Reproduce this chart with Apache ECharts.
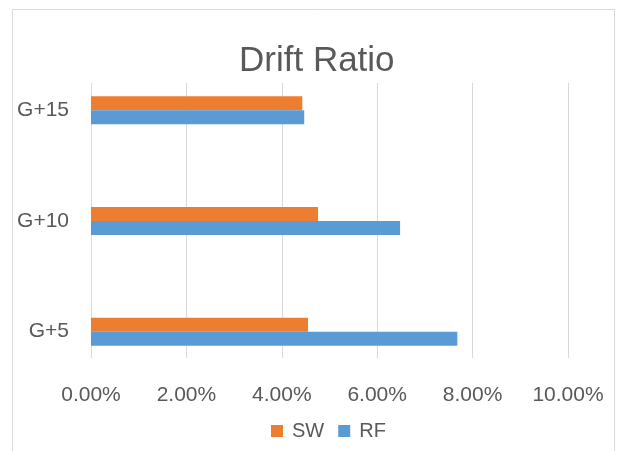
<!DOCTYPE html>
<html>
<head>
<meta charset="utf-8">
<script src="https://cdn.jsdelivr.net/npm/echarts@6/dist/echarts.min.js"></script>
<style>
  html, body { margin: 0; padding: 0; background: #fff; }
  #chart { width: 619px; height: 451px; }
</style>
</head>
<body>
<div id="chart"></div>
<script>
  // data (percent)
  const categories = ['G+5', 'G+10', 'G+15'];
  const swValues = [4.55, 4.76, 4.43];
  const rfValues = [7.68, 6.48, 4.47];
  const xTicks = [0, 2, 4, 6, 8, 10];

  const font = '"Liberation Sans Narrow", "Liberation Sans", sans-serif';
  const textColor = '#595959';

  let chart = echarts.init(document.getElementById('chart'));
  chart.setOption({
    animation: false,
    graphic: [{
      type: 'rect',
      shape: {x: 12.5, y: 9.5, width: 602, height: 460},
      style: {fill: 'none', stroke: '#d9d9d9', lineWidth: 1},
      silent: true,
      z: -1
    }],
    title: {
      text: 'Drift Ratio',
      left: 234,
      top: 39,
      textStyle: {fontFamily: font, fontSize: 35, fontWeight: 'normal', color: textColor}
    },
    legend: {
      data: ['SW', 'RF'],
      left: 266,
      top: 416,
      itemWidth: 12,
      itemHeight: 12,
      itemGap: 14,
      icon: 'rect',
      textStyle: {fontFamily: font, fontSize: 20, color: textColor, padding: [0, 0, 0, 4]}
    },
    grid: [
      {left: 91, top: 55, width: 477, height: 332},   // bars
      {left: 91, top: 83, width: 477, height: 275}    // gridlines + x labels
    ],
    xAxis: [
      {
        type: 'value', gridIndex: 0, min: xTicks[0], max: xTicks[xTicks.length - 1], interval: 2,
        axisLine: {show: false}, axisTick: {show: false}, axisLabel: {show: false}, splitLine: {show: false}
      },
      {
        type: 'value', gridIndex: 1, min: xTicks[0], max: xTicks[xTicks.length - 1], interval: 2,
        axisLine: {show: false}, axisTick: {show: false},
        axisLabel: {
          margin: 27,
          fontFamily: font, fontSize: 21, color: textColor,
          formatter: v => v.toFixed(2) + '%'
        },
        splitLine: {lineStyle: {color: '#d9d9d9', width: 1}}
      }
    ],
    yAxis: [
      {
        type: 'category', gridIndex: 0, data: categories,
        axisLine: {show: false}, axisTick: {show: false},
        axisLabel: {margin: 22, fontFamily: font, fontSize: 21, color: textColor}
      },
      {
        type: 'category', gridIndex: 1, data: categories, show: false
      }
    ],
    series: [
      {
        name: 'SW', type: 'bar', xAxisIndex: 0, yAxisIndex: 0,
        data: swValues, barWidth: 14, barGap: '0%',
        itemStyle: {color: '#ED7D31'}
      },
      {
        name: 'RF', type: 'bar', xAxisIndex: 0, yAxisIndex: 0,
        data: rfValues, barWidth: 14, barGap: '0%',
        itemStyle: {color: '#5B9BD5'}
      }
    ]
  });
</script>
</body>
</html>
